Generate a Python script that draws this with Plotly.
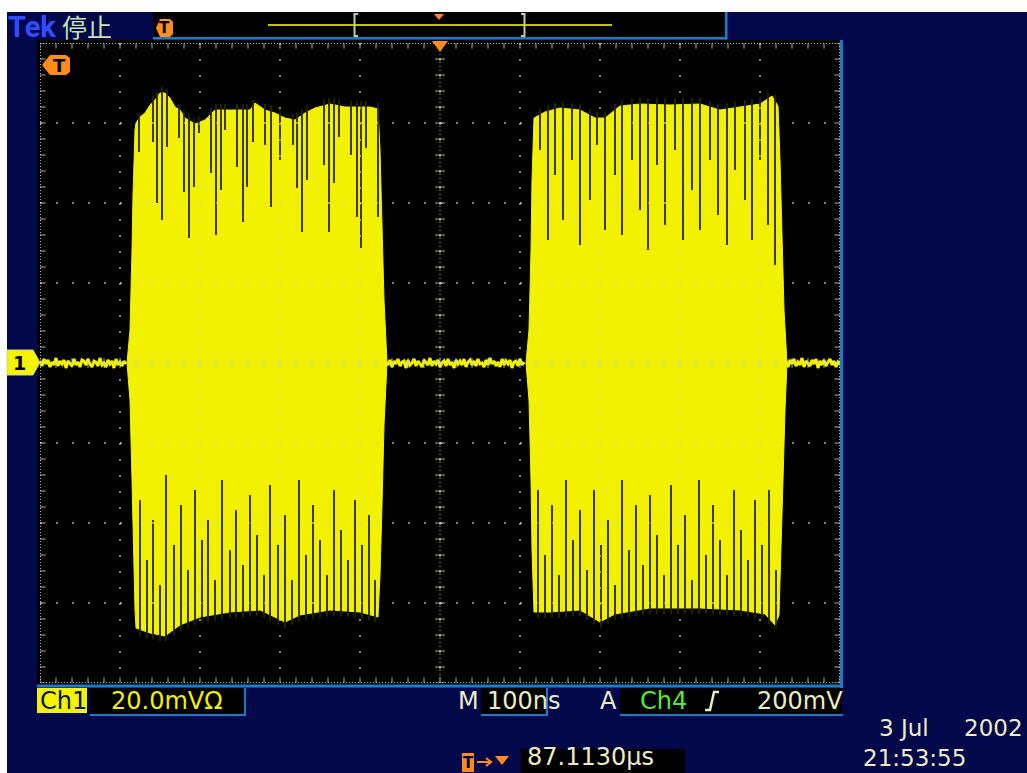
import numpy as np
import plotly.graph_objects as go

W, H = 1027, 773
GL, GR, GT, GB = 40, 840, 43, 683   # graticule box in page pixels

def X(px):
    return (px - GL) / (GR - GL)

def Y(py):
    return (GB - py) / (GB - GT)

# ---------------- data (time in ns, amplitude in mV; 100 ns/div, 20 mV/div) -------------
burst1_top_t = [-391.25, -387.5, -385, -383.75, -381.25, -380, -375, -368.75, -362.5, -356.25,
                -350, -343.75, -337.5, -331.25, -325, -318.75, -306.25, -293.75, -287.5, -281.25,
                -237.5, -231.25, -218.75, -206.25, -193.75, -181.25, -168.75, -156.25, -137.5, -118.75,
                -87.5, -77.5, -75, -72.5, -70, -66.25]
burst1_top_v = [0, 8.25, 28.25, 42, 58.25, 60, 61.5, 62.5, 64.5, 65.75,
                67.5, 67.5, 66.25, 64, 63.25, 61.25, 59.75, 60.75, 62, 63.25,
                63.25, 65, 63.25, 62.5, 61.25, 60.75, 62.5, 63.75, 64.75, 64,
                64, 63.5, 53.25, 35.75, 15.75, 0]
burst1_bot_t = [-391.25, -387.5, -385, -383.75, -381.25, -380, -362.5, -343.75, -325, -300,
                -262.5, -225, -193.75, -175, -137.5, -100, -77.5, -75, -72.5, -70, -66.25]
burst1_bot_v = [0, -9.25, -29.25, -44.25, -61.75, -66.25, -67.5, -68.25, -65.5, -63.5,
                -62.25, -61.75, -64.75, -63, -61.75, -62.25, -63.5, -53, -35.5, -15.5, 0]

burst2_top_t = [107.5, 111.25, 113.75, 115, 117.5, 131.25, 150, 175, 193.75, 206.25,
                225, 250, 287.5, 325, 350, 375, 400, 415, 422.5, 425, 427.5, 430, 433.75]
burst2_top_v = [0, 8.25, 28.25, 45.75, 61.25, 62.75, 63.75, 63.25, 61.25, 61.25,
                64.25, 64.75, 64.5, 64.75, 63.25, 64, 64.75, 66.75, 64.25, 50.75, 30.75, 13.25, 0]
burst2_bot_t = [107.5, 111.25, 113.75, 115, 117.5, 137.5, 175, 200, 218.75, 262.5,
                325, 375, 406.25, 418.75, 423.75, 426.25, 428.75, 431.25, 433.75]
burst2_bot_v = [0, -9.25, -29.25, -46.75, -62.25, -62.25, -61.75, -64.75, -62.75, -61.25,
                -61.25, -61.75, -62.75, -65.5, -63, -49.25, -29.25, -11.75, 0]

# dips of the carrier peaks (dark lines) : time, level reached
b1_dip_top_t = [-376.25, -358.75, -353.75, -347.5, -341.25, -326.25, -320, -313.75, -307.5, -301.25,
                -286.25, -280, -273.75, -268.75, -253.75, -246.25, -241.25, -233.75, -218.75, -211.25,
                -200, -183.75, -178.75, -172.5, -166.25, -145, -138.75, -132.5, -126.25, -111.25,
                -103.75, -98.75, -92.5, -77.5]
b1_dip_top_v = [52.75, 55.25, 40, 35.75, 54, 56.25, 42.75, 31.25, 44, 57.5,
                47.5, 32, 43.25, 58.25, 49, 35.25, 44, 55.25, 54.5, 39,
                50.75, 54.5, 43.75, 32.75, 45.75, 49.5, 32.75, 45, 56.5, 52,
                36.5, 28.75, 53.75, 36.5]
b1_dip_bot_t = [-375, -366.25, -358.75, -350, -342.5, -332.5, -323.75, -315, -306.25, -297.5,
                -290, -281.25, -272.5, -262.5, -255, -246.25, -237.5, -228.75, -220, -212.5,
                -202.5, -193.75, -185, -176.25, -167.5, -158.75, -150, -141.25, -132.5, -123.75,
                -115, -106.25, -97.5, -88.75, -81.25]
b1_dip_bot_v = [-34.25, -49.25, -39.25, -55.5, -28, -45.5, -35.5, -51.75, -31.75, -44.25,
                -39.25, -54.25, -29.25, -46.75, -36.75, -50.5, -33, -43, -53, -30.5,
                -45.5, -38, -54.25, -29.25, -48, -35.5, -44.25, -53, -31.75, -41.75,
                -49.25, -34.25, -45.5, -38, -54.25]
b2_dip_top_t = [125, 135, 143.75, 153.75, 165, 175, 187.5, 196.25, 206.25, 218.75,
                227.5, 240, 250, 260, 271.25, 281.25, 293.75, 303.75, 315, 325,
                337.5, 347.5, 358.75, 368.75, 381.25, 390, 400, 410, 418.75]
b2_dip_top_v = [53.25, 30.75, 47, 35.75, 50.75, 29.5, 40.75, 54.5, 33.25, 47,
                32, 50.75, 38.25, 28.25, 49.5, 34.5, 53.25, 30.75, 43.25, 33.25,
                50.75, 37, 29.5, 48.25, 40.75, 30.75, 50.75, 34.5, 24.5]
b2_dip_bot_t = [122.5, 131.25, 140, 148.75, 157.5, 166.25, 175, 183.75, 192.5, 201.25,
                210, 218.75, 227.5, 236.25, 245, 253.75, 262.5, 271.25, 280, 288.75,
                297.5, 306.25, 315, 323.75, 332.5, 341.25, 350, 358.75, 367.5, 376.25,
                385, 393.75, 402.5, 411.25, 420]
b2_dip_bot_v = [-31.75, -48, -35.5, -53, -29.25, -44.25, -36.75, -51.75, -31.75, -45.5,
                -39.25, -55.5, -29.25, -46.75, -35.5, -50.5, -33, -43, -53, -30.5,
                -45.5, -38, -54.25, -29.25, -48, -35.5, -44.25, -53, -31.75, -41.75,
                -49.25, -34.25, -45.5, -31.75, -51.75]

# baseline noise records (sample interval 2.5 ns)
dt_ns = 2.5
noise_a_t0 = -500.0
noise_a = [0.5, -0.75, 1.0, -0.25, 0.75, -1.0, 0.25, -0.5, 1.25, -0.75, 0.5, -0.25, 0.75, -1.25, 0.5,
           0.0, -0.75, 1.0, -0.5, 0.25, -1.0, 0.75, 0.5, -0.5, 1.0, -0.25, -1.0, 0.5, 0.25, -0.75,
           1.25, -0.5, 0.0, -1.0, 0.75, -0.25, 0.5, -1.25, 1.0, -0.5, 0.25, -0.75, 0.5, -0.25]
noise_b_t0 = -67.5
noise_b = [0.25, -0.5, 0.75, -1.0, 0.5, -0.25, 1.0, -0.75, 0.25, 0.5, -1.25, 0.75, -0.5, 0.0, 1.0,
           -0.75, 0.5, -0.25, -1.0, 0.75, 0.25, -0.5, 1.25, -0.75, 0.5, -0.25, 0.75, -1.0, 0.0, 0.5,
           -0.75, 1.0, -0.5, 0.25, -1.25, 0.75, -0.25, 0.5, -0.5, 1.0, -1.0, 0.25, 0.75, -0.5, 0.5,
           -0.75, 1.0, -0.25, 0.0, -1.0, 0.75, -0.5, 1.25, -0.25, 0.5, -0.75, 0.25, -1.0, 1.0, -0.5,
           0.5, -0.25, 0.75, -1.25, 0.25, 0.5, -0.75, 1.0, -0.5, 0.25]
noise_c_t0 = 432.5
noise_c = [0.5, -1.0, 0.75, -0.25, 1.0, -0.75, 0.25, -0.5, 1.25, -1.0, 0.5, 0.0, -0.75, 0.75,
           -0.25, 1.0, -1.25, 0.5, -0.5, 0.75, -0.75, 0.25, 1.0, -0.5, 0.5, -1.0, 0.25, -0.25]

# screen readouts
readouts = {
    "brand": "Tek", "state": "停止",
    "ch": "Ch1", "ch_scale": "20.0mVΩ",
    "m": "M", "timebase": "100ns",
    "a": "A", "trig_src": "Ch4", "trig_lvl": "200mV",
    "date1": "3 Jul", "date2": "2002", "time": "21:53:55",
    "trig_pos": "87.1130µs",
}

# ---------------- styles -----------------
NAVY = "#02084a"
BLUE = "#1a7cc8"
YEL = "#f2f200"
DARK = "#262600"
GRID = "rgba(205,215,175,0.85)"
BEIGE = "#ecebc4"
ORANGE = "#ff8c1a"
FONT = "DejaVu Sans"

fig = go.Figure()

# baseline noise
for t0, vals in ((noise_a_t0, noise_a), (noise_b_t0, noise_b), (noise_c_t0, noise_c)):
    t = t0 + dt_ns * np.arange(len(vals))
    fig.add_trace(go.Scatter(x=t, y=vals, mode="lines", line=dict(color=YEL, width=3),
                             hoverinfo="skip"))

# bursts
for tt, tv, bt, bv in ((burst1_top_t, burst1_top_v, burst1_bot_t, burst1_bot_v),
                       (burst2_top_t, burst2_top_v, burst2_bot_t, burst2_bot_v)):
    xs = list(tt) + list(bt)[::-1]
    ys = list(tv) + list(bv)[::-1]
    fig.add_trace(go.Scatter(x=xs, y=ys, mode="lines", fill="toself", fillcolor=YEL,
                             line=dict(color=YEL, width=1), hoverinfo="skip"))


def dips(ts, vs, env_t, env_v, pad):
    xs, ys = [], []
    for t, v in zip(ts, vs):
        e = float(np.interp(t, env_t, env_v))
        xs += [t, t, None]
        ys += [e + pad, v, None]
    return xs, ys


for ts, vs, et, ev, pad in ((b1_dip_top_t, b1_dip_top_v, burst1_top_t, burst1_top_v, 1.5),
                            (b1_dip_bot_t, b1_dip_bot_v, burst1_bot_t, burst1_bot_v, -1.5),
                            (b2_dip_top_t, b2_dip_top_v, burst2_top_t, burst2_top_v, 1.5),
                            (b2_dip_bot_t, b2_dip_bot_v, burst2_bot_t, burst2_bot_v, -1.5)):
    xs, ys = dips(ts, vs, et, ev, pad)
    fig.add_trace(go.Scatter(x=xs, y=ys, mode="lines", line=dict(color=DARK, width=1.8),
                             hoverinfo="skip"))

# graticule ticks (center cross and edges)
minor_t = np.arange(-500, 500.1, 20.0)
minor_v = np.arange(-80, 80.1, 4.0)
fig.add_trace(go.Scatter(x=minor_t, y=np.zeros_like(minor_t), mode="markers",
                         marker=dict(symbol="line-ns", size=7, line=dict(color=GRID, width=1)),
                         hoverinfo="skip"))
fig.add_trace(go.Scatter(x=np.zeros_like(minor_v), y=minor_v, mode="markers",
                         marker=dict(symbol="line-ew", size=7, line=dict(color=GRID, width=1)),
                         hoverinfo="skip"))
for yy in (-80, 80):
    fig.add_trace(go.Scatter(x=minor_t, y=np.full_like(minor_t, yy), mode="markers",
                             marker=dict(symbol="line-ns", size=8, line=dict(color=GRID, width=1)),
                             hoverinfo="skip"))
for xx in (-500, 500):
    fig.add_trace(go.Scatter(x=np.full_like(minor_v, xx), y=minor_v, mode="markers",
                             marker=dict(symbol="line-ew", size=8, line=dict(color=GRID, width=1)),
                             hoverinfo="skip"))

shapes = []

# page background pieces (paper coords, below)
def prect(x0, y0, x1, y1, color, layer="below"):
    shapes.append(dict(type="rect", xref="paper", yref="paper", x0=X(x0), x1=X(x1),
                       y0=Y(y1), y1=Y(y0), fillcolor=color, line=dict(width=0), layer=layer))

def ppath(pts, fill=None, line_color=None, width=0, close=True, layer="above"):
    d = "M " + " L ".join(f"{X(a):.5f},{Y(b):.5f}" for a, b in pts)
    if close:
        d += " Z"
    shapes.append(dict(type="path", xref="paper", yref="paper", path=d,
                       fillcolor=fill if fill else "rgba(0,0,0,0)",
                       line=dict(color=line_color if line_color else "rgba(0,0,0,0)", width=width),
                       layer=layer))

prect(7, 12, W, H, NAVY)
prect(37, 40, 842, 686, "black")
prect(153, 12, 727, 38, "black")
prect(153, 37, 727, 39.5, BLUE)
prect(725, 12, 727.5, 39.5, BLUE)
prect(840, 40, 843, 688, BLUE)
prect(37, 684.5, 843, 687.5, BLUE)
# bottom readout boxes
prect(37, 688, 87, 713, "#f4f400")
prect(90, 688, 245, 714, "black")
prect(90, 714, 246, 716, BLUE)
prect(244, 688, 246, 716, BLUE)
prect(481, 688, 547, 714, "black")
prect(481, 714, 548, 716, BLUE)
prect(546, 688, 548, 716, BLUE)
prect(620, 688, 842, 714, "black")
prect(620, 714, 843, 716, BLUE)
prect(521, 749, 685, H, "black")

# graticule lines (data coords, drawn above the trace)
for k in range(-4, 5):
    shapes.append(dict(type="line", xref="x", yref="y", x0=k * 100, x1=k * 100, y0=80, y1=-80,
                       line=dict(color=GRID, width=1.5, dash="2px,14px"), layer="above"))
for k in range(-3, 4):
    shapes.append(dict(type="line", xref="x", yref="y", x0=-500, x1=500, y0=k * 20, y1=k * 20,
                       line=dict(color=GRID, width=1.5, dash="2px,14px"), layer="above"))
shapes.append(dict(type="line", xref="x", yref="y", x0=-500, x1=500, y0=0, y1=0,
                   line=dict(color=GRID, width=1, dash="1px,3px"), layer="above"))
shapes.append(dict(type="line", xref="x", yref="y", x0=0, x1=0, y0=-80, y1=80,
                   line=dict(color=GRID, width=1, dash="1px,3px"), layer="above"))
for yy in (-80, 80):
    shapes.append(dict(type="line", xref="x", yref="y", x0=-500, x1=500, y0=yy, y1=yy,
                       line=dict(color=GRID, width=2, dash="1px,2px"), layer="above"))
for xx in (-500, 500):
    shapes.append(dict(type="line", xref="x", yref="y", x0=xx, x1=xx, y0=-80, y1=80,
                       line=dict(color=GRID, width=2, dash="1px,2px"), layer="above"))

# top bar record view
shapes.append(dict(type="line", xref="paper", yref="paper", x0=X(268), x1=X(612), y0=Y(25), y1=Y(25),
                   line=dict(color="#c4c400", width=2), layer="above"))
ppath([(358, 14), (354.5, 14), (354.5, 36), (358, 36)], line_color="#b8d49a", width=2, close=False)
ppath([(521, 14), (524.5, 14), (524.5, 36), (521, 36)], line_color="#b8d49a", width=2, close=False)
ppath([(434, 14), (444, 14), (439, 20)], fill=ORANGE)
# trigger markers
ppath([(156, 28), (160, 19), (170, 19), (173, 22), (173, 34), (170, 37), (160, 37)], fill=ORANGE)
ppath([(432, 41), (448, 41), (440, 52)], fill=ORANGE)
ppath([(42, 65), (50, 55), (66, 55), (70, 58), (70, 72), (66, 75), (50, 75)], fill=ORANGE)
# channel 1 ground marker
ppath([(7, 350), (33, 350), (40, 362.5), (33, 375), (7, 375)], fill="#f4f400",
      line_color="#c8d890", width=1)
# bottom trigger-position marker
ppath([(462, 753), (474, 753), (474, 772), (462, 772)], fill=ORANGE)
shapes.append(dict(type="line", xref="paper", yref="paper", x0=X(477), x1=X(490), y0=Y(762), y1=Y(762),
                   line=dict(color=ORANGE, width=2), layer="above"))
ppath([(486, 758), (491, 762), (486, 766)], line_color=ORANGE, width=2, close=False)
ppath([(495, 756), (509, 756), (502, 765)], fill=ORANGE)
# rising-edge slope symbol
ppath([(705, 710), (710, 710), (714, 692), (719, 692)], line_color=BEIGE, width=2.5, close=False)

annotations = []

def txt(s, px, py, size, color, family=FONT, anchor="left", bold=False, vanchor="middle"):
    annotations.append(dict(text=(f"<b>{s}</b>" if bold else s), x=X(px), y=Y(py),
                            xref="paper", yref="paper", xanchor=anchor, yanchor=vanchor,
                            showarrow=False, font=dict(family=family, size=size, color=color)))

txt(readouts["brand"], 6, 27, 29, "#2e4dff", family="Roboto", bold=True)
txt(readouts["state"], 60, 26, 25, "#c8e6b4", family="Noto Sans CJK SC")
txt("T", 164.5, 28.5, 15, "black", anchor="center", bold=True)
txt("T", 59, 65.5, 18, "black", anchor="center", bold=True)
txt("1", 19, 363, 19, "black", anchor="center", bold=True)
txt("T", 468, 763, 15, "#02084a", anchor="center", bold=True)
txt(readouts["ch"], 38, 701, 24, "#0a1650")
txt(readouts["ch_scale"], 109, 701, 24, YEL)
txt(readouts["m"], 456, 701, 24, BEIGE)
txt(readouts["timebase"], 485, 701, 24, BEIGE)
txt(readouts["a"], 598, 701, 24, BEIGE)
txt(readouts["trig_src"], 638, 701, 24, "#58ea30")
txt(readouts["trig_lvl"], 755, 701, 24, BEIGE)
txt(readouts["date1"], 877, 743, 23, BEIGE, vanchor="bottom")
txt(readouts["date2"], 962, 743, 23, BEIGE, vanchor="bottom")
txt(readouts["time"], 861, 773, 23, BEIGE, vanchor="bottom")
txt(readouts["trig_pos"], 525, 773, 24, BEIGE, vanchor="bottom")

fig.update_layout(
    width=W, height=H, autosize=False,
    margin=dict(l=GL, r=W - GR, t=GT, b=H - GB, pad=0),
    paper_bgcolor="white", plot_bgcolor="rgba(0,0,0,0)",
    xaxis=dict(range=[-500, 500], visible=False, fixedrange=True),
    yaxis=dict(range=[-80, 80], visible=False, fixedrange=True),
    showlegend=False, hovermode=False,
    shapes=shapes, annotations=annotations,
)

fig.write_html("out.html")
